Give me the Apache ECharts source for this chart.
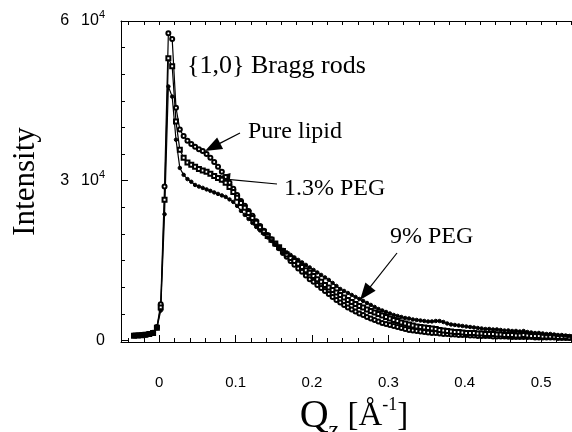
<!DOCTYPE html>
<html>
<head>
<meta charset="utf-8">
<script src="https://cdn.jsdelivr.net/npm/echarts@6/dist/echarts.min.js"></script>
<style>html,body{margin:0;padding:0;background:#fff;}#c{width:572px;height:432px;}</style>
</head>
<body>
<div id="c"></div>
<script>
// Q_z values (Å^-1)
const qValues = [
-0.033,-0.028,-0.023,-0.018,-0.013,-0.008,-0.003,0.002,0.007,0.012,
0.017,0.022,0.027,0.032,0.037,0.042,0.047,0.052,0.057,0.062,
0.067,0.072,0.077,0.082,0.087,0.092,0.097,0.102,0.107,0.112,
0.117,0.122,0.127,0.132,0.137,0.142,0.147,0.152,0.157,0.162,
0.167,0.172,0.177,0.182,0.187,0.192,0.197,0.202,0.207,0.212,
0.217,0.222,0.227,0.232,0.237,0.242,0.247,0.252,0.257,0.262,
0.267,0.272,0.277,0.282,0.287,0.292,0.297,0.302,0.307,0.312,
0.317,0.322,0.327,0.332,0.337,0.342,0.347,0.352,0.357,0.362,
0.367,0.372,0.377,0.382,0.387,0.392,0.397,0.402,0.407,0.412,
0.417,0.422,0.427,0.432,0.437,0.442,0.447,0.452,0.457,0.462,
0.467,0.472,0.477,0.482,0.487,0.492,0.497,0.502,0.507,0.512,
0.517,0.522,0.527,0.532,0.537,0.542,0.547,0.552];

// Pure lipid intensity
const pureLipid = [
900,950,1000,1080,1200,1450,2500,6800,28900,57700,
56600,43700,39600,38400,37500,36900,36400,35900,35600,35000,
34300,33500,32600,31700,30700,29600,28500,27300,26200,25300,
24300,23400,22400,21500,20600,19800,19000,18100,17300,16400,
15700,14900,14200,13500,12900,12200,11500,11000,10400,9850,
9290,8720,8160,7600,7130,6660,6190,5810,5430,5060,
4780,4400,4120,3840,3550,3270,3080,2900,2710,2520,
2330,2140,1960,1860,1770,1670,1580,1490,1390,1400,
1300,1200,1210,1110,1100,1020,1010,1000,920,930,
830,820,840,810,730,740,720,730,700,640,
650,630,640,620,630,550,560,540,550,530,
540,450,460,440,450,430,440,420];

// 1.3% PEG intensity
const peg13 = [
880,930,980,1060,1180,1400,2400,6200,26400,53000,
51500,41100,35800,34300,33400,33000,32600,32200,31900,31700,
31300,30900,30500,30200,29600,28800,27900,26800,25800,24900,
23950,23000,22100,21200,20400,19600,18900,18200,17500,16800,
16150,15500,14900,14400,13800,13200,12700,12100,11500,11000,
10400,9950,9480,9000,8540,8070,7600,7220,6840,6470,
6190,5810,5530,5250,4960,4680,4400,4120,3840,3650,
3370,3180,2990,2800,2610,2520,2430,2330,2240,2140,
1960,1860,1770,1670,1580,1590,1490,1390,1400,1380,
1300,1290,1200,1210,1190,1110,1100,1020,1010,1030,
920,930,1000,910,830,840,820,730,740,720,
730,640,650,630,550,560,540,550];

// 9% PEG intensity
const peg9 = [
860,910,960,1040,1150,1350,2300,5600,23700,47700,
45800,37700,32400,31100,30300,29800,29200,28900,28650,28370,
28090,27800,27520,27240,26960,26490,26020,25270,24330,23580,
22820,22070,21320,20660,20000,19350,18690,18120,17560,17000,
16530,16060,15590,15120,14650,14180,13710,13240,12770,12300,
11830,11360,10790,10230,9660,9290,8910,8540,8160,7780,
7410,7030,6660,6280,5900,5620,5340,5060,4780,4590,
4400,4210,4120,3930,3840,3740,3650,3550,3560,3650,
3640,3460,3180,2990,2900,2800,2710,2610,2520,2430,
2330,2240,2140,2150,2050,2060,1960,1860,1870,1770,
1780,1670,1760,1580,1490,1390,1400,1300,1200,1210,
1110,1020,1010,920,830,840,730,740];

// tick positions
const xMajorTicks = [0, 0.1, 0.2, 0.3, 0.4, 0.5];
const xMinorTicks = [-0.04,-0.02,0.02,0.04,0.06,0.08,0.12,0.14,0.16,0.18,0.22,0.24,0.26,0.28,0.32,0.34,0.36,0.38,0.42,0.44,0.46,0.48,0.52,0.54];
const xTopTicks = [-0.04,-0.02,0,0.02,0.04,0.06,0.08,0.1,0.12,0.14,0.16,0.18,0.2,0.22,0.24,0.26,0.28,0.3,0.32,0.34,0.36,0.38,0.4,0.42,0.44,0.46,0.48,0.5,0.52,0.54];
const yMajorTicks = [0, 30000, 60000];
const yMinorTicks = [5000,10000,15000,20000,25000,35000,40000,45000,50000,55000];

const seriesNames = ['Pure lipid', '1.3% PEG', '9% PEG'];

function zip(ys){ return qValues.map((q,i)=>[q, ys[i]]); }

const SERIF = '"Liberation Serif","Times New Roman",serif';
const SANS = '"Liberation Sans",Arial,Helvetica,sans-serif';
const XMIN = -0.05, XMAX = 0.56, YMIN = -300, YMAX = 60000;

function arrow(x1,y1,x2,y2){
  const dx=x2-x1, dy=y2-y1, L=Math.hypot(dx,dy), ux=dx/L, uy=dy/L;
  const hl=17, hw=6.5;
  const bx=x2-ux*hl, by=y2-uy*hl;
  return [
    {type:'line', shape:{x1:x1,y1:y1,x2:bx+ux*2,y2:by+uy*2}, style:{stroke:'#000', lineWidth:1.2}},
    {type:'polygon', shape:{points:[[x2,y2],[bx-uy*hw,by+ux*hw],[bx+uy*hw,by-ux*hw]]}, style:{fill:'#000'}}
  ];
}
function label(txt,x,y,size){
  return {type:'text', x:x, y:y, style:{text:txt, font:size+'px '+SERIF, fill:'#000', verticalAlign:'middle', align:'left'}};
}

const chart = echarts.init(document.getElementById('c'), null, {renderer:'canvas'});
const axisLineStyle = {color:'#000', width:1};
const lineCommon = {type:'line', xAxisIndex:0, yAxisIndex:0, showSymbol:true, symbolSize:4,
  lineStyle:{color:'#000', width:1.2}, itemStyle:{color:'#000', borderColor:'#000', borderWidth:1},
  emphasis:{disabled:true}, clip:true};

chart.setOption({
  animation:false,
  backgroundColor:'#fff',
  grid:{left:121, top:21, width:466, height:321, containLabel:false, outerBoundsMode:'none'},
  xAxis:[
    {type:'value', position:'bottom', min:XMIN, max:XMAX,
      axisLine:{show:true, onZero:false, lineStyle:axisLineStyle},
      axisTick:{show:true, inside:true, length:7, customValues:xMajorTicks, lineStyle:axisLineStyle},
      axisLabel:{show:true, customValues:xMajorTicks, margin:33, color:'#000', fontFamily:SANS, fontSize:15,
        formatter:v=> v===0 ? '0' : v.toFixed(1)},
      splitLine:{show:false},
      name:'{a|Q}{sub|z}{b| [Å}{sup|-1}{b|]}', nameLocation:'middle', nameGap:47,
      nameTextStyle:{color:'#000', fontFamily:SERIF, rich:{
        a:{fontFamily:SERIF, fontSize:40, color:'#000'},
        b:{fontFamily:SERIF, fontSize:33, color:'#000'},
        sub:{fontFamily:SERIF, fontSize:24, color:'#000', padding:[30,0,0,0]},
        sup:{fontFamily:SERIF, fontSize:18, color:'#000', padding:[0,0,22,0]}
      }}
    },
    {type:'value', position:'bottom', min:XMIN, max:XMAX,
      axisLine:{show:false, onZero:false},
      axisTick:{show:true, inside:true, length:4, customValues:xMinorTicks, lineStyle:axisLineStyle},
      axisLabel:{show:false}, splitLine:{show:false}},
    {type:'value', position:'top', min:XMIN, max:XMAX,
      axisLine:{show:true, onZero:false, lineStyle:axisLineStyle},
      axisTick:{show:true, inside:true, length:4, customValues:xTopTicks, lineStyle:axisLineStyle},
      axisLabel:{show:false}, splitLine:{show:false}}
  ],
  yAxis:[
    {type:'value', position:'left', min:YMIN, max:YMAX,
      axisLine:{show:true, onZero:false, lineStyle:axisLineStyle},
      axisTick:{show:true, inside:true, length:7, customValues:yMajorTicks, lineStyle:axisLineStyle},
      axisLabel:{show:true, customValues:yMajorTicks, margin:16, color:'#000',
        formatter:v=> v===0 ? '{n|0}' : '{n|'+(v/10000)+'}{g| }{n|10}{s|4}',
        rich:{
          n:{fontFamily:SANS, fontSize:16, color:'#000'},
          g:{fontFamily:SANS, fontSize:16, width:12},
          s:{fontFamily:SANS, fontSize:11, color:'#000', padding:[0,0,12,0]}
        }},
      splitLine:{show:false},
      name:'Intensity', nameLocation:'middle', nameRotate:90, nameGap:80,
      nameTextStyle:{color:'#000', fontFamily:SERIF, fontSize:31}
    },
    {type:'value', position:'left', min:YMIN, max:YMAX,
      axisLine:{show:false, onZero:false},
      axisTick:{show:true, inside:true, length:4, customValues:yMinorTicks, lineStyle:axisLineStyle},
      axisLabel:{show:false}, splitLine:{show:false}}
  ],
  series:[
    Object.assign({}, lineCommon, {name:seriesNames[0], data:zip(pureLipid), symbol:'emptyCircle', symbolSize:4}),
    Object.assign({}, lineCommon, {name:seriesNames[1], data:zip(peg13), symbol:'emptyRect', symbolSize:4}),
    Object.assign({}, lineCommon, {name:seriesNames[2], data:zip(peg9), symbol:'circle', symbolSize:3.5})
  ],
  graphic:[].concat(
    [label('{1,0} Bragg rods', 187, 66, 26),
     label(seriesNames[0], 248, 132, 24),
     label(seriesNames[1], 284, 189, 24),
     label(seriesNames[2], 390, 237, 24)],
    arrow(240,133,205,151),
    arrow(277,184,213,178),
    arrow(397,253,360,300)
  )
});
</script>
</body>
</html>
